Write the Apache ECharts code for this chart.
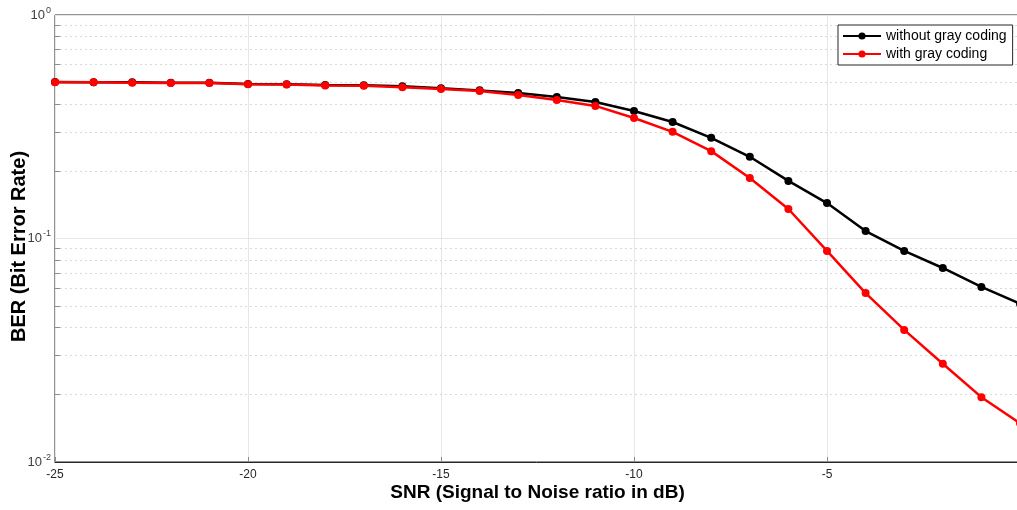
<!DOCTYPE html>
<html>
<head>
<meta charset="utf-8">
<script src="https://cdn.jsdelivr.net/npm/echarts@6/dist/echarts.min.js"></script>
<style>
  html, body { margin: 0; padding: 0; background: #fff; }
  #chart { width: 1017px; height: 510px; }
</style>
</head>
<body>
<div id="chart"></div>
<script>
// SNR in dB
const snr = [-25, -24, -23, -22, -21, -20, -19, -18, -17, -16, -15, -14, -13,
  -12, -11, -10, -9, -8, -7, -6, -5, -4, -3, -2, -1, 0];
// BER without gray coding
const berNoGray = [0.501, 0.500, 0.500, 0.497, 0.497, 0.491, 0.490, 0.486, 0.485,
  0.480, 0.470, 0.460, 0.448, 0.430, 0.408, 0.372, 0.332, 0.282, 0.232, 0.181,
  0.144, 0.108, 0.088, 0.0738, 0.0607, 0.0511];
// BER with gray coding
const berGray = [0.500, 0.500, 0.498, 0.496, 0.496, 0.490, 0.489, 0.484, 0.483,
  0.475, 0.466, 0.457, 0.439, 0.417, 0.392, 0.346, 0.300, 0.246, 0.1865, 0.1355,
  0.088, 0.057, 0.039, 0.0275, 0.0195, 0.0149];
// minor log grid values (2..9 x decade)
const minorY = [0.02, 0.03, 0.04, 0.05, 0.06, 0.07, 0.08, 0.09,
  0.2, 0.3, 0.4, 0.5, 0.6, 0.7, 0.8, 0.9];

const font = '"Liberation Sans", Arial, sans-serif';
const chart = echarts.init(document.getElementById('chart'));

const zip = (xs, ys) => xs.map((x, i) => [x, ys[i]]);

// dotted minor grid lines + short inward ticks on the left axis
const minorLines = minorY.map(v => ({ yAxis: v }));
const minorTicks = minorY.map(v => [
  { coord: [snr[0], v], lineStyle: { type: 'solid', color: '#8c8c8c', width: 1 } },
  { coord: [snr[0] + 0.13, v] }
]);

chart.setOption({
  backgroundColor: '#fff',
  animation: false,
  textStyle: { fontFamily: font },
  grid: {
    left: 55, right: -3, top: 15, bottom: 48,
    outerBoundsMode: 'none',
    containLabel: false,
    show: true, borderColor: '#262626', borderWidth: 1, backgroundColor: '#fff'
  },
  legend: {
    orient: 'vertical',
    left: 838, top: 25,
    backgroundColor: '#fff',
    borderColor: '#262626', borderWidth: 1, borderRadius: 0,
    padding: [4, 6, 4, 4],
    itemGap: 4,
    itemWidth: 38, itemHeight: 9,
    textStyle: { fontSize: 14, color: '#000', fontFamily: font },
    data: ['without gray coding', 'with gray coding']
  },
  xAxis: {
    type: 'value',
    min: -25, max: 0, interval: 5,
    name: 'SNR (Signal to Noise ratio in dB)',
    nameLocation: 'middle', nameGap: 21,
    nameMoveOverlap: false,
    nameTextStyle: { fontSize: 19, fontWeight: 'bold', color: '#000', fontFamily: font },
    axisLine: { lineStyle: { color: '#262626', width: 1 } },
    axisTick: { inside: true, length: 5, lineStyle: { color: '#8c8c8c' } },
    axisLabel: { fontSize: 12, color: '#262626', margin: 7, showMaxLabel: false },
    splitLine: { show: true, lineStyle: { color: '#e6e6e6', width: 1 } }
  },
  yAxis: {
    type: 'log', logBase: 10,
    min: 0.01, max: 1,
    name: 'BER (Bit Error Rate)',
    nameLocation: 'middle', nameGap: 26,
    nameMoveOverlap: false,
    nameTextStyle: { fontSize: 20, fontWeight: 'bold', color: '#000', fontFamily: font,
      padding: [0, 16, 0, 0] },
    axisLine: { lineStyle: { color: '#8c8c8c', width: 1.5 } },
    axisTick: { inside: true, length: 6, lineStyle: { color: '#8c8c8c' } },
    axisLabel: {
      margin: 4,
      formatter: v => '{b|10}{s|' + Math.round(Math.log10(v)) + '}',
      rich: {
        b: { fontSize: 13, color: '#404040', fontFamily: font },
        s: { fontSize: 9, color: '#404040', fontFamily: font, padding: [0, 0, 9, 1] }
      }
    },
    splitLine: { show: true, lineStyle: { color: '#e6e6e6', width: 1 } }
  },
  series: [
    {
      name: 'grid-helper',
      type: 'line',
      data: [],
      silent: true,
      markLine: {
        z: 1,
        silent: true,
        symbol: 'none',
        label: { show: false },
        lineStyle: { color: '#d9d9d9', type: [2, 3], width: 1 },
        data: minorLines.concat(minorTicks)
      }
    },
    {
      name: 'without gray coding',
      type: 'line',
      z: 3,
      data: zip(snr, berNoGray),
      symbol: 'circle', symbolSize: 8,
      lineStyle: { color: '#000', width: 2.5 },
      itemStyle: { color: '#000' }
    },
    {
      name: 'with gray coding',
      type: 'line',
      z: 4,
      data: zip(snr, berGray),
      symbol: 'circle', symbolSize: 8,
      lineStyle: { color: '#ff0000', width: 2.5 },
      itemStyle: { color: '#ff0000' }
    }
  ]
});
</script>
</body>
</html>
